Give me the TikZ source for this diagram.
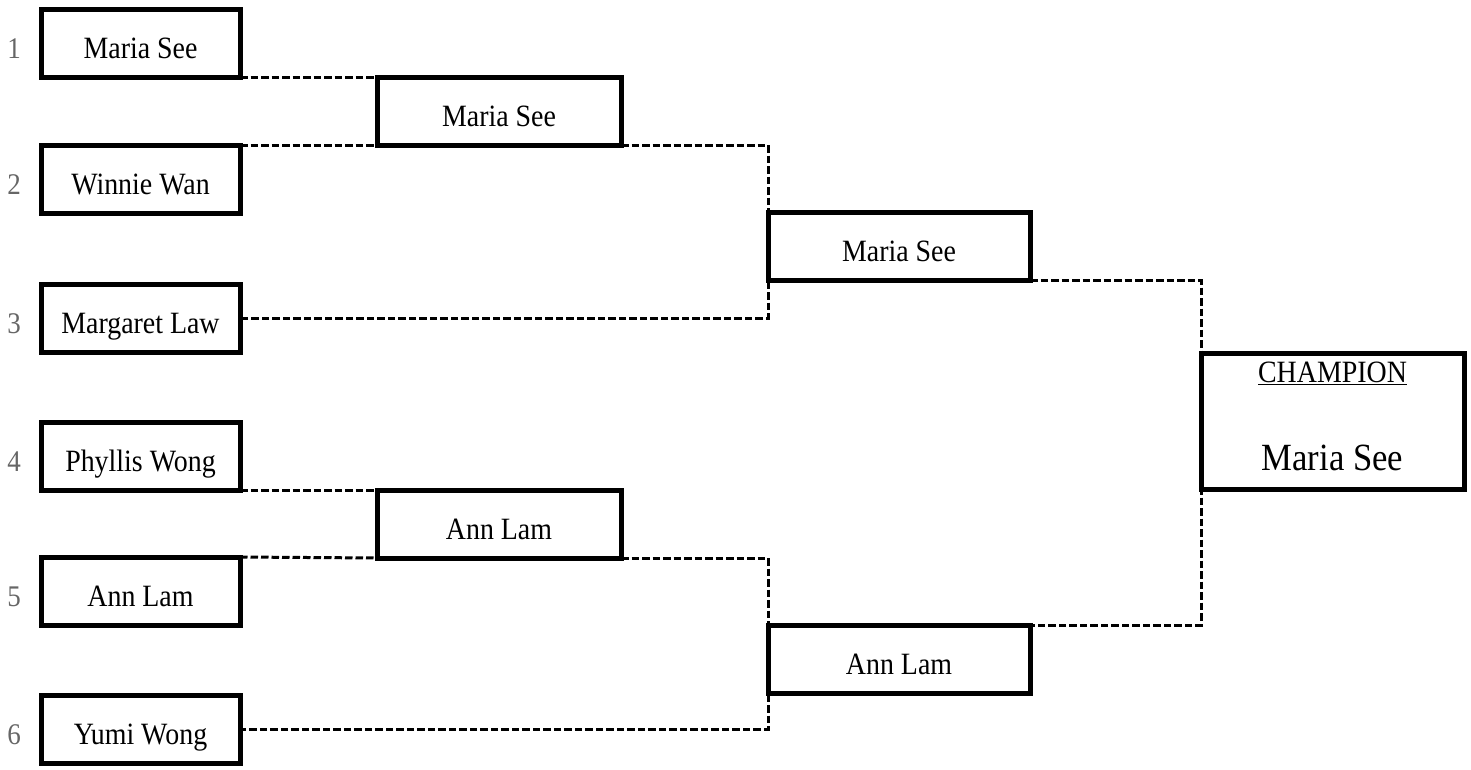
\documentclass[tikz,border=0pt]{standalone}
\usepackage{fontspec}
\setmainfont{Liberation Serif}[FakeStretch=0.9]
\begin{document}
\begin{tikzpicture}[x=1pt,y=-1pt,
  box/.style={draw, line width=5pt, outer sep=0pt, inner sep=0pt, minimum height=68pt,
    font=\fontsize{31}{34}\selectfont, text height=31pt, text depth=0pt},
  r1/.style={box, minimum width=199pt},
  r2/.style={box, minimum width=244pt},
  r3/.style={box, minimum width=262pt},
  champ/.style={draw, line width=5pt, outer sep=0pt, inner sep=0pt, minimum width=263pt, minimum height=136pt},
  conn/.style={line width=3pt, dash pattern=on 7.5pt off 3pt},
  seed/.style={text=black!60, font=\fontsize{30}{33}\selectfont, text height=31pt, text depth=0pt, inner sep=0pt},
  clabel/.style={anchor=base, inner sep=0pt}]
\useasboundingbox (0,0) rectangle (1471,769);

% round 1
\node[r1] (b1) at (140.5,43) {Maria See};
\node[r1] (b2) at (140.5,179) {Winnie Wan};
\node[r1] (b3) at (140.5,318) {Margaret Law};
\node[r1] (b4) at (140.5,456) {Phyllis Wong};
\node[r1] (b5) at (140.5,591) {Ann Lam};
\node[r1] (b6) at (140.5,729) {Yumi Wong};

% seeds
\node[seed] (n1) at (14,43) {1};
\node[seed] (n2) at (14,179) {2};
\node[seed] (n3) at (14,318) {3};
\node[seed] (n4) at (14,456) {4};
\node[seed] (n5) at (14,591) {5};
\node[seed] (n6) at (14,729) {6};

% round 2
\node[r2] (r2a) at (499,111) {Maria See};
\node[r2] (r2b) at (499,524) {Ann Lam};

% round 3
\node[r3] (r3a) at (899,246) {Maria See};
\node[r3] (r3b) at (899,659) {Ann Lam};

% champion
\node[champ] (ch) at (1332.5,421) {};
\node[clabel, font=\fontsize{31}{34}\selectfont] (ctitle) at (1332.5,382) {\underline{CHAMPION}};
\node[clabel, font=\fontsize{38.5}{42}\selectfont] (cname) at (1332.5,470) {Maria See};

% connectors
\draw[conn] (b1.south east) -- (r2a.north west);
\draw[conn] (b2.north east) -- (r2a.south west);
\draw[conn] (b4.south east) -- (r2b.north west);
\draw[conn] (b5.north east) -- (r2b.south west);
\draw[conn] (r2a.south east) -| (r3a.west |- b3.east) -- (b3.east);
\draw[conn] (r2b.south east) -| (r3b.west |- b6.east) -- (b6.east);
\draw[conn] (r3a.south east) -| (ch.west |- r3b.north east) -- (r3b.north east);
\end{tikzpicture}
\end{document}
